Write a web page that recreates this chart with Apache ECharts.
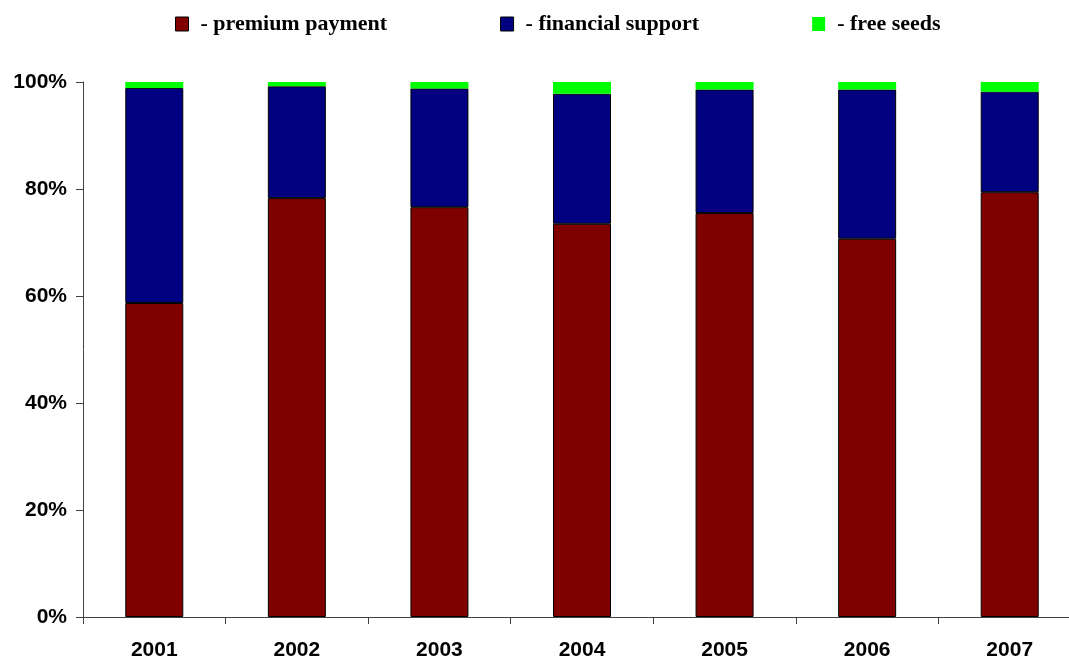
<!DOCTYPE html>
<html>
<head>
<meta charset="utf-8">
<script src="https://cdn.jsdelivr.net/npm/echarts@6/dist/echarts.min.js"></script>
<style>
  html, body { margin: 0; padding: 0; background: #fff; overflow: hidden; }
  /* the plot runs a little past the right edge of the window */
  #chart { width: 1081px; height: 661px; }
</style>
</head>
<body>
<div id="chart"></div>
<script>
// Years on the category axis
const years = ['2001', '2002', '2003', '2004', '2005', '2006', '2007'];

// Share of each support form per year, in percent
const premiumPayment   = [58.7, 78.3, 76.6, 73.5, 75.5, 70.7, 79.4];
const financialSupport = [40.2, 20.9, 22.2, 24.3, 23.1, 27.9, 18.8];
const freeSeeds        = [1.1, 0.8, 1.2, 2.2, 1.4, 1.4, 1.8];

// Value axis ticks
const yTicks = [0, 20, 40, 60, 80, 100];

const seriesNames = ['- premium payment', '- financial support', '- free seeds'];
const seriesColors = ['#800000', '#000080', '#00ff00'];

const chart = echarts.init(document.getElementById('chart'), null, { renderer: 'canvas' });

const axisColor = '#404040';
const labelFont = {
  fontFamily: 'Liberation Sans, Arial, sans-serif',
  fontWeight: 'bold',
  fontSize: 21,
  color: '#000'
};

function barSeries(name, data, color, bordered) {
  return {
    name: name,
    type: 'bar',
    stack: 'total',
    data: data,
    barWidth: 58,
    itemStyle: {
      color: color,
      borderColor: bordered ? '#000' : color,
      borderWidth: bordered ? 1 : 0
    },
    emphasis: { disabled: true }
  };
}

chart.setOption({
  animation: false,
  backgroundColor: '#fff',
  legend: {
    top: 13,
    left: 175,
    padding: 0,
    itemWidth: 13,
    itemHeight: 14,
    itemGap: 113,
    icon: 'rect',
    data: seriesNames.map((n, i) => ({
      name: n,
      itemStyle: {
        color: seriesColors[i],
        borderColor: i < 2 ? '#000' : seriesColors[i],
        borderWidth: i < 2 ? 1 : 0
      }
    })),
    textStyle: {
      fontFamily: 'Liberation Serif, Times New Roman, serif',
      fontWeight: 'bold',
      fontSize: 22,
      color: '#000',
      padding: [0, 0, 0, 7]
    },
    selectedMode: false
  },
  grid: {
    left: 83,
    top: 82,
    right: 0,
    bottom: 44,
    containLabel: false
  },
  xAxis: {
    type: 'category',
    data: years,
    axisLine: { lineStyle: { color: axisColor, width: 1 } },
    axisTick: { show: true, length: 7, alignWithLabel: false, lineStyle: { color: axisColor } },
    axisLabel: Object.assign({ margin: 23 }, labelFont),
    splitLine: { show: false }
  },
  yAxis: {
    type: 'value',
    min: yTicks[0],
    max: yTicks[yTicks.length - 1],
    interval: yTicks[1] - yTicks[0],
    axisLine: { show: true, lineStyle: { color: axisColor, width: 1 } },
    axisTick: { show: true, length: 7, lineStyle: { color: axisColor } },
    axisLabel: Object.assign({ margin: 16, formatter: '{value}%' }, labelFont),
    splitLine: { show: false }
  },
  series: [
    barSeries(seriesNames[0], premiumPayment, seriesColors[0], true),
    barSeries(seriesNames[1], financialSupport, seriesColors[1], true),
    barSeries(seriesNames[2], freeSeeds, seriesColors[2], false)
  ]
});
</script>
</body>
</html>
